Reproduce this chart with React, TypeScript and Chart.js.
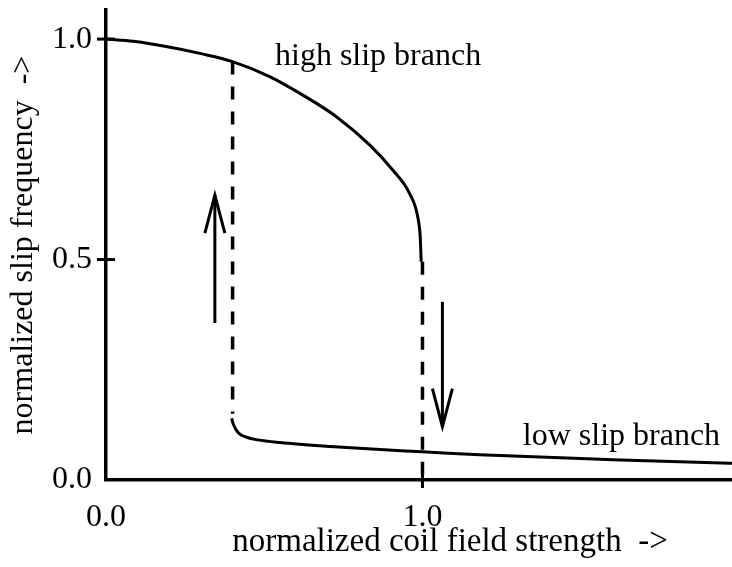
import React, { useEffect, useRef } from "react";
import { Chart, registerables } from "chart.js";

Chart.register(...registerables);

// ---- data ----
const highBranchX = [0, 0.086, 0.19, 0.3, 0.4, 0.517, 0.622, 0.728, 0.833, 0.906, 0.959, 0.985, 0.993, 0.996];
const highBranchY = [1.0, 0.995, 0.983, 0.967, 0.949, 0.915, 0.873, 0.824, 0.76, 0.703, 0.65, 0.597, 0.55, 0.495];

const lowBranchX = [0.397, 0.402, 0.418, 0.444, 0.48, 0.55, 0.708, 0.866, 1.0, 1.18, 1.6, 1.972, 2.174];
const lowBranchY = [0.14, 0.127, 0.107, 0.097, 0.091, 0.085, 0.076, 0.069, 0.064, 0.057, 0.046, 0.038, 0.035];

const upJumpX = [0.4, 0.4];
const upJumpY = [0.949, 0.15];
const downJumpX = [1.0, 1.0];
const downJumpY = [0.495, 0.0];

// arrows: [x, yFrom, yTo]
const arrowUp = [0.344, 0.356, 0.646];
const arrowDown = [1.063, 0.404, 0.121];

// text labels: [text, x, y]
const branchLabels: [string, number, number][] = [
  ["high slip branch", 0.534, 0.941],
  ["low slip branch", 1.317, 0.079],
];

const xTicks = [0, 1];
const yTicks = [0, 0.5, 1];
const xTitle = "normalized coil field strength  ->";
const yTitle = "normalized slip frequency  ->";

const FONT = "'Liberation Serif', 'Times New Roman', serif";

const toPoints = (xs: number[], ys: number[]) => xs.map((x, i) => ({ x, y: ys[i] }));

const decorPlugin = {
  id: "decor",
  afterDatasetsDraw(chart: any) {
    const ctx = chart.ctx as CanvasRenderingContext2D;
    const xs = chart.scales.x;
    const ys = chart.scales.y;
    const area = chart.chartArea;
    ctx.save();
    ctx.strokeStyle = "#000";
    ctx.lineWidth = 3;
    ctx.lineCap = "butt";
    // crossing tick marks
    xTicks.forEach((v) => {
      if (v === 0) return;
      const px = xs.getPixelForValue(v);
      ctx.beginPath();
      ctx.moveTo(px, area.bottom - 8);
      ctx.lineTo(px, area.bottom + 8);
      ctx.stroke();
    });
    yTicks.forEach((v) => {
      if (v === 0) return;
      const py = ys.getPixelForValue(v);
      ctx.beginPath();
      ctx.moveTo(area.left - 9, py);
      ctx.lineTo(area.left + 9, py);
      ctx.stroke();
    });
    // arrows
    [arrowUp, arrowDown].forEach(([x, y0, y1]) => {
      const px = xs.getPixelForValue(x);
      const p0 = ys.getPixelForValue(y0);
      const p1 = ys.getPixelForValue(y1);
      const dir = p1 < p0 ? 1 : -1;
      ctx.lineWidth = 3;
      ctx.beginPath();
      ctx.moveTo(px, p0);
      ctx.lineTo(px, p1);
      ctx.stroke();
      ctx.beginPath();
      ctx.moveTo(px - 10, p1 + dir * 38);
      ctx.lineTo(px, p1);
      ctx.lineTo(px + 10, p1 + dir * 38);
      ctx.stroke();
    });
    // labels
    ctx.fillStyle = "#000";
    ctx.font = `32px ${FONT}`;
    ctx.textAlign = "left";
    ctx.textBaseline = "alphabetic";
    branchLabels.forEach(([t, x, y]) => {
      ctx.fillText(t, xs.getPixelForValue(x), ys.getPixelForValue(y));
    });
    ctx.restore();
  },
};

export default function App() {
  const ref = useRef<HTMLCanvasElement | null>(null);
  useEffect(() => {
    if (!ref.current) return;
    const solid = { borderColor: "#000", borderWidth: 3, pointRadius: 0, showLine: true, fill: false };
    const dashed = { ...solid, borderWidth: 3.5, borderDash: [13, 12] };
    const chart = new Chart(ref.current, {
      type: "scatter",
      data: {
        datasets: [
          { ...solid, data: toPoints(highBranchX, highBranchY), cubicInterpolationMode: "monotone" },
          { ...solid, data: toPoints(lowBranchX, lowBranchY), cubicInterpolationMode: "monotone" },
          { ...dashed, data: toPoints(upJumpX, upJumpY) },
          { ...dashed, data: toPoints(downJumpX, downJumpY) },
        ] as any,
      },
      options: {
        responsive: false,
        animation: false,
        devicePixelRatio: 1,
        layout: { padding: { top: 10, right: 0, left: 0, bottom: 0 } },
        plugins: { legend: { display: false }, tooltip: { enabled: false } },
        scales: {
          x: {
            type: "linear",
            min: 0,
            max: 2.174,
            afterBuildTicks: (s: any) => {
              s.ticks = xTicks.map((v) => ({ value: v }));
            },
            afterFit: (s: any) => {
              s.height = 87;
              s.paddingLeft = 0;
              s.paddingRight = 0;
            },
            grid: { display: false, drawTicks: false },
            border: { display: true, color: "#000", width: 3.5 },
            ticks: {
              color: "#000",
              font: { family: FONT, size: 32 },
              padding: 18,
              maxRotation: 0,
              callback: (v: any) => Number(v).toFixed(1),
            },
            title: {
              display: true,
              text: xTitle,
              color: "#000",
              font: { family: FONT, size: 33 },
              padding: { top: 0, bottom: 5 },
            },
          },
          y: {
            type: "linear",
            min: 0,
            max: 1.066,
            afterBuildTicks: (s: any) => {
              s.ticks = yTicks.map((v) => ({ value: v }));
            },
            afterFit: (s: any) => {
              s.width = 106;
              s.paddingTop = 0;
              s.paddingBottom = 0;
            },
            grid: { display: false, drawTicks: false },
            border: { display: true, color: "#000", width: 3.5 },
            ticks: {
              color: "#000",
              font: { family: FONT, size: 32 },
              padding: 14,
              callback: (v: any) => Number(v).toFixed(1),
            },
            title: {
              display: true,
              text: yTitle,
              color: "#000",
              font: { family: FONT, size: 32 },
              padding: { top: 4, bottom: 0 },
            },
          },
        },
      } as any,
      plugins: [decorPlugin],
    });
    return () => chart.destroy();
  }, []);
  return (
    <div style={{ position: "fixed", left: 0, top: 0, width: 732, height: 567, overflow: "hidden", background: "#fff" }}>
      <canvas ref={ref} width={794} height={567} style={{ width: 794, height: 567, display: "block" }} />
    </div>
  );
}
